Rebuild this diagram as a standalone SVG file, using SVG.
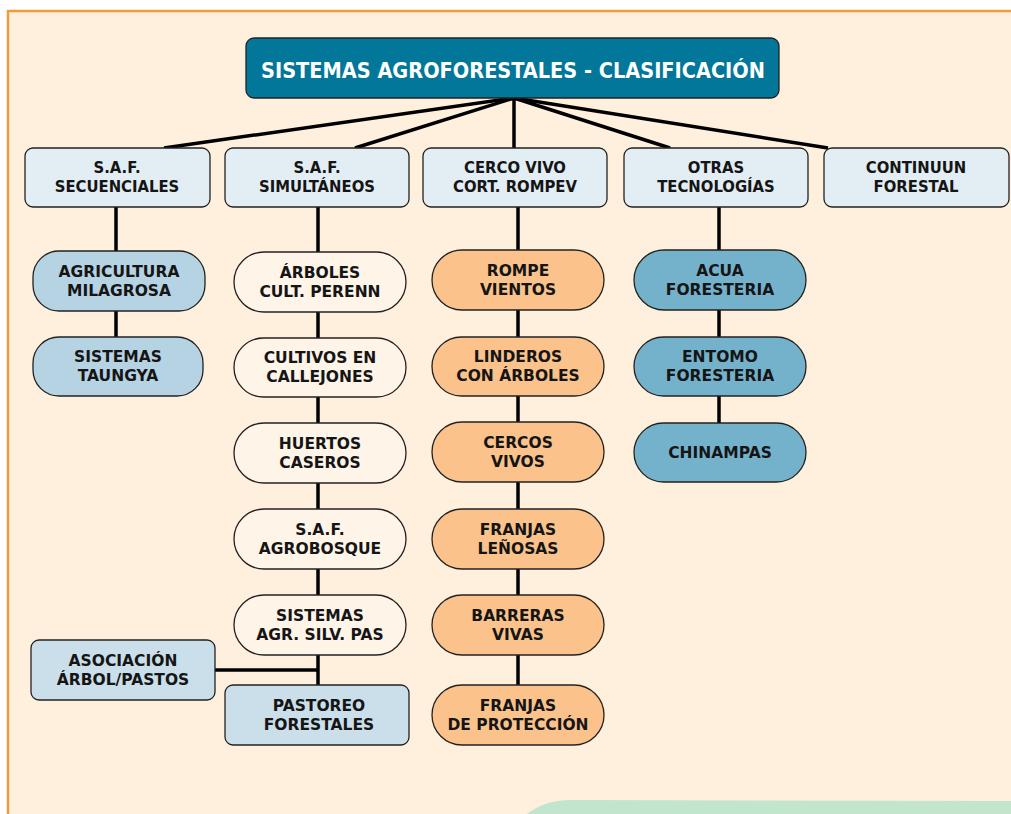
<svg xmlns="http://www.w3.org/2000/svg" width="1011" height="814" viewBox="0 0 1011 814">
<style>
.bx{stroke:#222;stroke-width:1.3}
.l1{fill:#E2EEF4}
.c1{fill:#B5D3E3}
.c2{fill:#FEF4E8}
.c3{fill:#FBC38B}
.c4{fill:#74B2CB}
.c5{fill:#CADFEA}
.t{font-family:"DejaVu Sans",sans-serif;font-weight:bold;font-size:15.5px;fill:#151515;text-anchor:middle}
.th{font-family:"DejaVu Sans Condensed","DejaVu Sans",sans-serif;font-weight:bold;font-size:16.5px;fill:#151515;text-anchor:middle}
.tt{font-family:"DejaVu Sans Condensed","DejaVu Sans",sans-serif;font-weight:bold;font-size:21.5px;fill:#fff;text-anchor:middle}
.ln{stroke:#000;stroke-width:3.5;fill:none}
</style>
<rect x="0" y="0" width="1011" height="814" fill="#fff"/>
<rect x="8" y="11" width="1010" height="810" fill="#FEF0DC" stroke="#F39A3A" stroke-width="2.5"/>
<path d="M527,814 Q545,800 570,800 L1011,801 L1011,814 Z" fill="#C2E5CE"/>
<g id="connectors">
<line class="ln" x1="514" y1="98" x2="164" y2="148"/>
<line class="ln" x1="514" y1="98" x2="355" y2="148"/>
<line class="ln" x1="514" y1="98" x2="514" y2="148"/>
<line class="ln" x1="514" y1="98" x2="670" y2="148"/>
<line class="ln" x1="514" y1="98" x2="828" y2="148"/>
<line class="ln" x1="116" y1="207" x2="116" y2="337"/>
<line class="ln" x1="318" y1="207" x2="318" y2="685"/>
<line class="ln" x1="518" y1="207" x2="518" y2="685"/>
<line class="ln" x1="719" y1="207" x2="719" y2="423"/>
<line class="ln" x1="215" y1="670" x2="318" y2="670"/>
</g>
<g id="title"><rect class="bx" x="246" y="38" width="533" height="60" rx="8" fill="#02779A"/><text class="tt" x="513" y="78">SISTEMAS AGROFORESTALES - CLASIFICACIÓN</text></g>
<g id="saf-secuenciales"><rect class="bx l1" x="25" y="148" width="185" height="59" rx="8"/><text class="th" x="117" y="173">S.A.F.</text><text class="th" x="117" y="192">SECUENCIALES</text></g>
<g id="saf-simultaneos"><rect class="bx l1" x="225" y="148" width="184" height="59" rx="8"/><text class="th" x="317" y="173">S.A.F.</text><text class="th" x="317" y="192">SIMULTÁNEOS</text></g>
<g id="cerco-vivo"><rect class="bx l1" x="423" y="148" width="184" height="59" rx="8"/><text class="th" x="515" y="173">CERCO VIVO</text><text class="th" x="515" y="192">CORT. ROMPEV</text></g>
<g id="otras-tecnologias"><rect class="bx l1" x="624" y="148" width="184" height="59" rx="8"/><text class="th" x="716" y="173">OTRAS</text><text class="th" x="716" y="192">TECNOLOGÍAS</text></g>
<g id="continuun-forestal"><rect class="bx l1" x="824" y="148" width="185" height="59" rx="8"/><text class="th" x="916" y="173">CONTINUUN</text><text class="th" x="916" y="192">FORESTAL</text></g>

<g id="agricultura-milagrosa"><rect class="bx c1" x="33" y="251" width="172" height="60" rx="26"/><text class="t" x="119" y="277">AGRICULTURA</text><text class="t" x="119" y="296">MILAGROSA</text></g>
<g id="sistemas-taungya"><rect class="bx c1" x="33" y="337" width="170" height="59" rx="26"/><text class="t" x="118" y="362">SISTEMAS</text><text class="t" x="118" y="381">TAUNGYA</text></g>

<g id="arboles-cult"><rect class="bx c2" x="234" y="252" width="172" height="60" rx="30"/><text class="t" x="320" y="278">ÁRBOLES</text><text class="t" x="320" y="297">CULT. PERENN</text></g>
<g id="cultivos-callejones"><rect class="bx c2" x="234" y="338" width="172" height="59" rx="29.5"/><text class="t" x="320" y="363">CULTIVOS EN</text><text class="t" x="320" y="382">CALLEJONES</text></g>
<g id="huertos-caseros"><rect class="bx c2" x="234" y="423" width="172" height="60" rx="30"/><text class="t" x="320" y="449">HUERTOS</text><text class="t" x="320" y="468">CASEROS</text></g>
<g id="saf-agrobosque"><rect class="bx c2" x="234" y="509" width="172" height="60" rx="30"/><text class="t" x="320" y="535">S.A.F.</text><text class="t" x="320" y="554">AGROBOSQUE</text></g>
<g id="sistemas-agr"><rect class="bx c2" x="234" y="595" width="172" height="60" rx="30"/><text class="t" x="320" y="621">SISTEMAS</text><text class="t" x="320" y="640">AGR. SILV. PAS</text></g>
<g id="asociacion"><rect class="bx c5" x="31" y="640" width="184" height="60" rx="8"/><text class="t" x="123" y="666">ASOCIACIÓN</text><text class="t" x="123" y="685">ÁRBOL/PASTOS</text></g>
<g id="pastoreo"><rect class="bx c5" x="225" y="685" width="184" height="60" rx="8"/><text class="t" x="319" y="711">PASTOREO</text><text class="t" x="319" y="730">FORESTALES</text></g>

<g id="rompe-vientos"><rect class="bx c3" x="432" y="250" width="172" height="60" rx="30"/><text class="t" x="518" y="276">ROMPE</text><text class="t" x="518" y="295">VIENTOS</text></g>
<g id="linderos"><rect class="bx c3" x="432" y="337" width="172" height="59" rx="29.5"/><text class="t" x="518" y="362">LINDEROS</text><text class="t" x="518" y="381">CON ÁRBOLES</text></g>
<g id="cercos-vivos"><rect class="bx c3" x="432" y="422" width="172" height="60" rx="30"/><text class="t" x="518" y="448">CERCOS</text><text class="t" x="518" y="467">VIVOS</text></g>
<g id="franjas-lenosas"><rect class="bx c3" x="432" y="509" width="172" height="60" rx="30"/><text class="t" x="518" y="535">FRANJAS</text><text class="t" x="518" y="554">LEÑOSAS</text></g>
<g id="barreras-vivas"><rect class="bx c3" x="432" y="595" width="172" height="60" rx="30"/><text class="t" x="518" y="621">BARRERAS</text><text class="t" x="518" y="640">VIVAS</text></g>
<g id="franjas-proteccion"><rect class="bx c3" x="432" y="685" width="172" height="60" rx="30"/><text class="t" x="518" y="711">FRANJAS</text><text class="t" x="518" y="730">DE PROTECCIÓN</text></g>

<g id="acua-foresteria"><rect class="bx c4" x="634" y="250" width="172" height="60" rx="30"/><text class="t" x="720" y="276">ACUA</text><text class="t" x="720" y="295">FORESTERIA</text></g>
<g id="entomo-foresteria"><rect class="bx c4" x="634" y="337" width="172" height="59" rx="29.5"/><text class="t" x="720" y="362">ENTOMO</text><text class="t" x="720" y="381">FORESTERIA</text></g>
<g id="chinampas"><rect class="bx c4" x="634" y="423" width="172" height="59" rx="29.5"/><text class="t" x="720" y="458">CHINAMPAS</text></g>
</svg>
